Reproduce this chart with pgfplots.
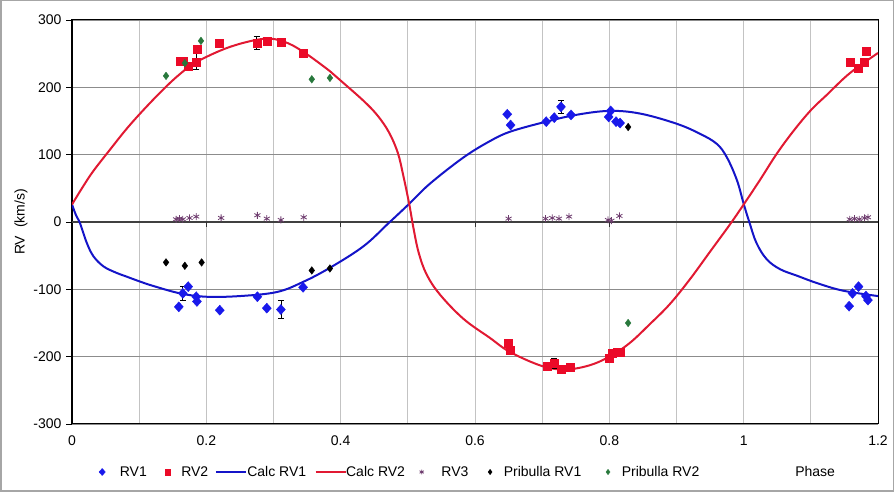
\documentclass[border=0pt]{standalone}
\usepackage{pgfplots}
\pgfplotsset{compat=1.18}
\usepackage{fontspec}
\setmainfont{Liberation Sans}
\definecolor{rvblue}{RGB}{25,25,235}
\definecolor{rvred}{RGB}{235,10,40}
\definecolor{calcblue}{RGB}{20,20,200}
\definecolor{calcred}{RGB}{225,25,50}
\definecolor{rvthree}{RGB}{110,60,110}
\definecolor{pgreen}{RGB}{40,120,60}
\definecolor{hgrid}{RGB}{140,140,140}
\definecolor{vgrid}{RGB}{195,195,195}
\newcommand{\chfont}{\fontsize{14pt}{16pt}\selectfont}
\pgfplotsset{
  mleg/.style 2 args={legend image code/.code={\path (-#1,0pt) (#2,0pt); \draw[##1,/tikz/only marks,/tikz/every mark/.append style={scale=0.7}] plot coordinates {(0pt,0pt)};}},
  lleg/.style 2 args={legend image code/.code={\path (-#1,0pt) (#2,0pt); \draw[##1,overlay] (0pt,0pt) -- (30pt,0pt);}},
}
\begin{document}
\begin{tikzpicture}
\useasboundingbox (0,0) rectangle (894pt,492pt);
\draw[gray!70, line width=1.5pt] (0.75pt,0.75pt) rectangle (893.25pt,491.25pt);
\begin{axis}[
  at={(72pt,68pt)}, anchor=south west,
  scale only axis, width=806pt, height=404pt,
  xmin=0, xmax=1.2, ymin=-300, ymax=300,
  xtick={0,0.2,0.4,0.6,0.8,1,1.2},
  xticklabels={0,0.2,0.4,0.6,0.8,1,1.2},
  minor xtick={0.1,0.3,0.5,0.7,0.9,1.1},
  ytick={-300,-200,-100,0,100,200,300},
  xmajorgrids, xminorgrids, ymajorgrids,
  major x grid style={vgrid, line width=0.8pt},
  minor x grid style={vgrid, line width=0.8pt},
  major y grid style={hgrid, line width=0.8pt},
  x tick style={draw=none},
  ytick pos=left, tick align=outside, major tick length=6pt,
  y tick style={black, line width=0.8pt},
  axis line style={black, line width=1pt},
  /pgf/number format/assume math mode=true,
  ticklabel style={font=\chfont},
  yticklabel style={xshift=-1pt},
  xticklabel style={yshift=-2pt},
  ylabel={RV\ \ (km/s)},
  ylabel style={font=\chfont, yshift=-1pt},
  xlabel={Phase},
  xlabel style={at={(axis description cs:0.922,-0.1188)}, anchor=center, font=\chfont},
  legend columns=-1,
  legend style={at={(axis description cs:0.031,-0.1188)}, anchor=west, draw=none, fill=none,
    font=\chfont, inner sep=0pt, outer sep=0pt, column sep=0pt, nodes={inner sep=2pt}},
]
\draw[black!75, line width=1.3pt] (axis cs:0,0) -- (axis cs:1.2,0);
\draw[black!80, line width=0.8pt] (axis cs:0.2,0) -- (axis cs:0.2,-7);
\draw[black!80, line width=0.8pt] (axis cs:0.4,0) -- (axis cs:0.4,-7);
\draw[black!80, line width=0.8pt] (axis cs:0.6,0) -- (axis cs:0.6,-7);
\draw[black!80, line width=0.8pt] (axis cs:0.8,0) -- (axis cs:0.8,-7);
\draw[black!80, line width=0.8pt] (axis cs:1.0,0) -- (axis cs:1.0,-7);
% calculated curves
\addplot[forget plot, calcblue, line width=2pt, smooth, tension=0.6] coordinates {
(0,26) (0.006,10) (0.012,-2) (0.022,-31) (0.032,-51) (0.047,-66) (0.065,-75) (0.081,-81)
(0.10,-88) (0.121,-95) (0.161,-106) (0.20,-111) (0.25,-110) (0.305,-104) (0.344,-89)
(0.384,-68) (0.434,-36) (0.471,-2) (0.502,27) (0.533,57) (0.583,96) (0.622,120) (0.652,134)
(0.702,148) (0.75,159) (0.80,165) (0.846,161) (0.90,146) (0.935,131) (0.96,116) (0.975,96)
(0.99,62) (1.0,27) (1.009,-2) (1.019,-31) (1.034,-55) (1.054,-70) (1.08,-80) (1.11,-91)
(1.148,-102) (1.20,-110)};
\addplot[forget plot, calcred, line width=2pt, smooth, tension=0.6] coordinates {
(0,26) (0.016,52) (0.032,76) (0.057,108) (0.081,138) (0.106,166) (0.136,197) (0.161,220)
(0.186,238) (0.235,260) (0.285,272) (0.315,268) (0.344,253) (0.384,224) (0.40,210)
(0.434,180) (0.455,158) (0.472,133) (0.485,103) (0.493,70) (0.502,27) (0.508,-7)
(0.516,-45) (0.528,-78) (0.548,-108) (0.583,-144) (0.622,-172) (0.652,-193) (0.70,-214)
(0.735,-219) (0.77,-213) (0.80,-200) (0.83,-180) (0.86,-152) (0.89,-122) (0.92,-85)
(0.95,-44) (0.98,-3) (1.0,26) (1.024,62) (1.049,101) (1.074,135) (1.10,166) (1.124,189)
(1.158,221) (1.20,251)};
% error bars
\addplot[forget plot, only marks, mark=none,
  error bars/.cd, y dir=both, y explicit,
  error bar style={black, line width=0.7pt},
  error mark options={rotate=90, black, mark size=3pt, line width=0.7pt}]
coordinates {(0.165,-106) +- (0,10) (0.311,-130) +- (0,13) (0.728,171) +- (0,10)
(0.185,238) +- (0,12) (0.275,266) +- (0,10) (0.344,251) +- (0,6) (0.718,-210) +- (0,8)};
% RV1
\addplot[only marks, mark=diamond*, mark size=5pt, color=rvblue, mark options={xscale=1.2}, mleg={5pt}{15.5pt}] coordinates {
(0.159,-126) (0.165,-106) (0.173,-96) (0.185,-111) (0.186,-118) (0.220,-131) (0.276,-111)
(0.290,-128) (0.311,-130) (0.344,-97)
(0.648,160) (0.653,144) (0.706,149) (0.718,155) (0.728,171) (0.743,159) (0.799,156)
(0.802,165) (0.810,149) (0.816,147)
(1.157,-125) (1.162,-106) (1.171,-96) (1.182,-110) (1.185,-116)};
\addlegendentry{RV1}
% RV2
\addplot[only marks, mark=square*, mark size=4pt, color=rvred, mleg={18.5pt}{11.5pt}] coordinates {
(0.161,239) (0.165,239) (0.173,231) (0.185,238) (0.186,257) (0.219,266) (0.275,266)
(0.290,269) (0.311,267) (0.344,251)
(0.649,-180) (0.653,-190) (0.707,-214) (0.718,-210) (0.729,-218) (0.741,-215) (0.800,-202)
(0.804,-195) (0.811,-193) (0.816,-193)
(1.158,237) (1.170,229) (1.180,237) (1.183,254)};
\addlegendentry{RV2}
\addlegendimage{calcblue, line width=2pt, lleg={4.5pt}{28.5pt}}
\addlegendentry{Calc RV1}
\addlegendimage{calcred, line width=2pt, lleg={6.5pt}{27.5pt}}
\addlegendentry{Calc RV2}
% RV3
\addplot[only marks, mark=asterisk, mark size=3.5pt, color=rvthree, mark options={line width=0.8pt}, mleg={14.5pt}{17.5pt}] coordinates {
(0.155,4) (0.160,5) (0.165,4) (0.175,6) (0.185,8) (0.222,6) (0.276,10) (0.290,5) (0.311,3)
(0.345,7) (0.650,5) (0.705,5) (0.715,6) (0.725,5) (0.740,8) (0.798,3) (0.803,2) (0.815,9)
(1.158,4) (1.165,5) (1.172,4) (1.180,6) (1.185,7)};
\addlegendentry{RV3}
% Pribulla RV1
\addplot[only marks, mark=diamond*, mark size=3.8pt, color=black, mleg={19.5pt}{11.5pt}] coordinates {
(0.140,-60) (0.168,-65) (0.193,-60) (0.357,-72) (0.384,-69) (0.828,141)};
\addlegendentry{Pribulla RV1}
% Pribulla RV2
\addplot[only marks, mark=diamond*, mark size=3.8pt, color=pgreen, mleg={24.5pt}{11.5pt}] coordinates {
(0.140,217) (0.168,236) (0.192,269) (0.357,212) (0.384,214) (0.828,-150)};
\addlegendentry{Pribulla RV2}
\end{axis}
\end{tikzpicture}
\end{document}
